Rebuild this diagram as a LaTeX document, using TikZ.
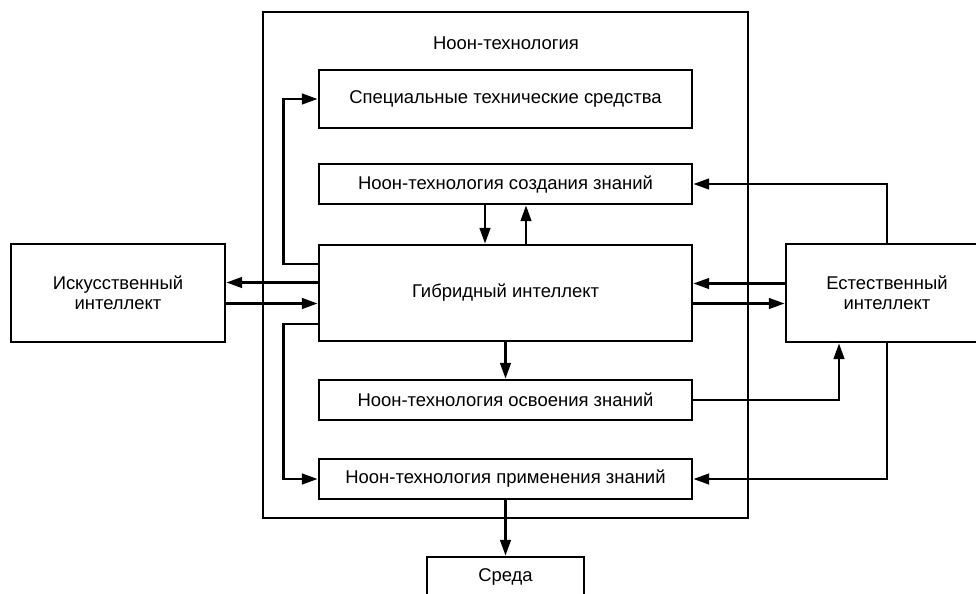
\documentclass[tikz,border=0pt]{standalone}
\usepackage{fontspec}
\setmainfont{Liberation Sans}
\usepackage{tikz}
\usetikzlibrary{arrows.meta, positioning, calc}
\tikzstyle{bloc} = [rectangle, minimum width = 7.46cm, minimum height = 0.8cm, text centered, draw = black, line width = 1.5pt, font = \fontsize{10.5}{11.5}\selectfont]
\tikzstyle{intel} = [rectangle, minimum height = 1.96cm, text centered, align = center, draw = black, line width = 1.5pt, font = \fontsize{10.5}{11.5}\selectfont]
\tikzstyle{fl} = [-{Triangle[length = 9pt, width = 6pt]}, line width = 1.5pt]

\begin{document}
\begin{tikzpicture}[node distance = 2.cm]

\useasboundingbox (0,0) rectangle (19.52,-11.86);

% cadre principal
\draw[line width = 1.5pt] (5.26,-0.24) rectangle (14.96,-10.36);
\node (0) at (10.12,-0.86) {\fontsize{10.5}{11.5}\selectfont Ноон-технология};

\node (1) [bloc, minimum height = 1.16cm] at (10.11,-1.98) {Специальные технические средства};
\node (2) [bloc, below of = 1, yshift = 0.3cm] {Ноон-технология создания знаний};
\node (3) [bloc, minimum height = 1.92cm, below of = 2, yshift = -0.18cm] {Гибридный интеллект};
\node (4) [bloc, below of = 3, yshift = -0.14cm] {Ноон-технология освоения знаний};
\node (5) [bloc, below of = 4, yshift = 0.42cm] {Ноон-технология применения знаний};
\node (8) [bloc, minimum width = 3.14cm, below of = 5, yshift = 0.04cm] {Среда};

\node (6) [intel, minimum width = 4.28cm, left of = 3, xshift = -5.75cm] {Искусственный\\интеллект};
\node (7) [intel, minimum width = 4.04cm, right of = 3, xshift = 5.63cm] {Естественный\\интеллект};

\draw[fl] ([yshift = 0.21cm]3.west) -- ([yshift = 0.21cm]3.west -| 6.east);
\draw[fl] ([yshift = -0.21cm]3.west -| 6.east) -- ([yshift = -0.21cm]3.west);
\draw[fl] ([yshift = 0.19cm]3.east -| 7.west) -- ([yshift = 0.19cm]3.east);
\draw[fl] ([yshift = -0.21cm]3.east) -- ([yshift = -0.21cm]3.east -| 7.west);

\draw[fl] ([yshift = 0.58cm]3.west) -- ++(-0.68,0) |- (1.west);
\draw[fl] ([yshift = -0.62cm]3.west) -- ++(-0.68,0) |- (5.west);

\draw[fl] ([xshift = -0.41cm]2.south) -- ([xshift = -0.41cm]3.north);
\draw[fl] ([xshift = 0.41cm]3.north) -- ([xshift = 0.41cm]2.south);
\draw[fl] (3) -- (4);
\draw[fl] (5) -- (8);

\draw[fl] (7.north) |- (2.east);
\draw[fl] (4.east) -| ([xshift = -0.96cm]7.south);
\draw[fl] (7.south) |- (5.east);

\end{tikzpicture}
\end{document}
